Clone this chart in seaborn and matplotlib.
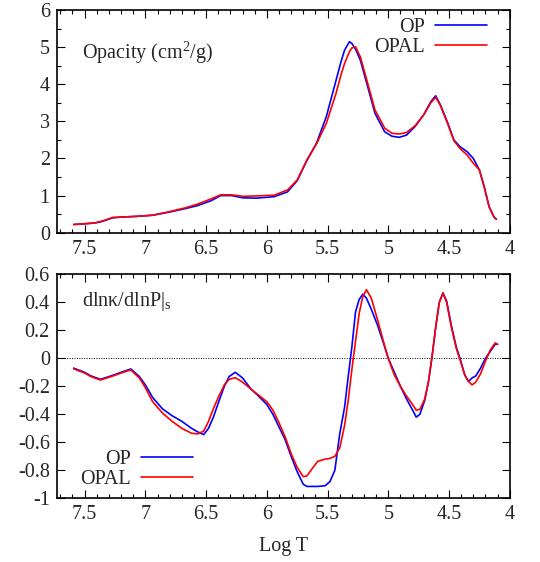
import numpy as np
import pandas as pd
import matplotlib
matplotlib.use("Agg")
import matplotlib.pyplot as plt
import seaborn as sns
from matplotlib.ticker import MultipleLocator

# ============================================================
# Data
# ============================================================

logt_top = [7.59, 7.50, 7.42, 7.37, 7.33, 7.27, 7.20, 7.07, 6.94, 6.81,
            6.67, 6.57, 6.46, 6.38, 6.29, 6.20, 6.09, 5.94, 5.83, 5.75,
            5.67, 5.59, 5.51, 5.43, 5.39, 5.36, 5.32, 5.30, 5.27, 5.23,
            5.17, 5.11, 5.03, 4.97, 4.91, 4.85, 4.78, 4.71, 4.65, 4.61,
            4.57, 4.51, 4.46, 4.41, 4.35, 4.30, 4.25, 4.21, 4.17, 4.13,
            4.11]

kappa_op = [0.22, 0.24, 0.26, 0.29, 0.33, 0.40, 0.42, 0.44, 0.47, 0.55,
            0.65, 0.73, 0.86, 1.00, 1.00, 0.94, 0.93, 0.97, 1.10, 1.40,
            1.95, 2.42, 3.13, 4.11, 4.60, 4.92, 5.15, 5.10, 4.95, 4.65,
            3.94, 3.22, 2.72, 2.60, 2.57, 2.63, 2.86, 3.17, 3.53, 3.69,
            3.44, 2.95, 2.50, 2.32, 2.18, 2.00, 1.69, 1.24, 0.70, 0.42,
            0.36]

kappa_opal = [0.22, 0.24, 0.26, 0.30, 0.34, 0.41, 0.42, 0.44, 0.47, 0.56,
              0.67, 0.77, 0.91, 1.02, 1.02, 0.98, 0.99, 1.01, 1.15, 1.42,
              1.96, 2.40, 2.95, 3.76, 4.25, 4.56, 4.88, 4.98, 5.01, 4.74,
              4.03, 3.31, 2.82, 2.68, 2.66, 2.70, 2.88, 3.17, 3.50, 3.65,
              3.42, 2.93, 2.48, 2.27, 2.09, 1.87, 1.69, 1.22, 0.70, 0.42,
              0.36]

logt_bot = [7.59, 7.50, 7.45, 7.37, 7.28, 7.20, 7.12, 7.05, 7.00, 6.94,
            6.86, 6.78, 6.70, 6.62, 6.57, 6.52, 6.48, 6.44, 6.40, 6.35,
            6.31, 6.26, 6.20, 6.13, 6.08, 6.00, 5.95, 5.90, 5.85, 5.80,
            5.75, 5.70, 5.67, 5.62, 5.58, 5.52, 5.48, 5.44, 5.40, 5.36,
            5.33, 5.30, 5.27, 5.24, 5.21, 5.18, 5.14, 5.09, 5.04, 5.00,
            4.95, 4.90, 4.85, 4.80, 4.77, 4.74, 4.70, 4.67, 4.64, 4.61,
            4.58, 4.55, 4.52, 4.48, 4.44, 4.41, 4.37, 4.34, 4.31, 4.28,
            4.24, 4.20, 4.16, 4.12, 4.10]

dlnk_op = [-0.07, -0.10, -0.125, -0.15, -0.125, -0.10, -0.076, -0.13, -0.19, -0.28,
           -0.36, -0.41, -0.45, -0.50, -0.525, -0.545, -0.50, -0.42, -0.32, -0.20,
           -0.13, -0.10, -0.14, -0.22, -0.26, -0.33, -0.40, -0.49, -0.58, -0.70,
           -0.81, -0.90, -0.915, -0.915, -0.915, -0.91, -0.88, -0.80, -0.54, -0.35,
           -0.13, 0.08, 0.33, 0.42, 0.458, 0.43, 0.35, 0.24, 0.11, 0.0,
           -0.10, -0.20, -0.29, -0.37, -0.42, -0.40, -0.30, -0.17, 0.01, 0.22,
           0.40, 0.467, 0.41, 0.23, 0.08, 0.0, -0.12, -0.166, -0.14, -0.126,
           -0.07, 0.0, 0.05, 0.10, 0.10]

dlnk_opal = [-0.075, -0.105, -0.13, -0.155, -0.13, -0.105, -0.083, -0.14, -0.21, -0.31,
             -0.39, -0.45, -0.50, -0.535, -0.54, -0.52, -0.45, -0.36, -0.28, -0.19,
             -0.15, -0.138, -0.17, -0.22, -0.255, -0.31, -0.37, -0.46, -0.56, -0.68,
             -0.78, -0.845, -0.84, -0.78, -0.735, -0.72, -0.715, -0.70, -0.64, -0.48,
             -0.30, -0.08, 0.12, 0.32, 0.44, 0.49, 0.43, 0.28, 0.12, 0.0,
             -0.12, -0.20, -0.27, -0.33, -0.37, -0.365, -0.29, -0.17, 0.01, 0.22,
             0.40, 0.465, 0.40, 0.22, 0.07, -0.01, -0.12, -0.165, -0.19, -0.17,
             -0.11, -0.02, 0.06, 0.11, 0.10]

x_ticks = [7.5, 7, 6.5, 6, 5.5, 5, 4.5, 4]
x_ticklabels = ["7.5", "7", "6.5", "6", "5.5", "5", "4.5", "4"]
top_yticks = [0, 1, 2, 3, 4, 5, 6]
bot_yticks = [-1, -0.8, -0.6, -0.4, -0.2, 0, 0.2, 0.4, 0.6]
bot_yticklabels = ["-1", "-0.8", "-0.6", "-0.4", "-0.2", "0", "0.2", "0.4", "0.6"]

PALETTE = {"OP": "#0000ff", "OPAL": "#ff0000"}

# ============================================================
# Style
# ============================================================

sns.set_theme(style="ticks")
plt.rcParams["font.family"] = ["Liberation Serif", "DejaVu Serif"]
plt.rcParams["mathtext.default"] = "regular"
plt.rcParams["axes.unicode_minus"] = False
FS = 14.5


def long_frame(x, a, b):
    return pd.DataFrame({"logT": x + x, "val": a + b,
                         "table": ["OP"] * len(a) + ["OPAL"] * len(b)})


def style_axis(ax):
    ax.set_xlim(7.73, 4.0)
    ax.set_xticks(x_ticks)
    ax.set_xticklabels(x_ticklabels)
    ax.xaxis.set_minor_locator(MultipleLocator(0.1))
    ax.tick_params(which="both", direction="in", top=True, right=True,
                   labelsize=FS, pad=5, width=0.8, color="black")
    ax.tick_params(which="major", length=6)
    ax.tick_params(which="minor", length=3)
    for sp in ax.spines.values():
        sp.set_linewidth(1.2)
        sp.set_color("black")
    ax.set_xlabel("")
    ax.set_ylabel("")


fig = plt.figure(figsize=(5.4, 5.62), dpi=100)
ax1 = fig.add_axes([0.105, 0.586, 0.839, 0.396])
ax2 = fig.add_axes([0.105, 0.1133, 0.839, 0.3986])

# ---- top panel: opacity
df_top = long_frame(logt_top, kappa_op, kappa_opal)
sns.lineplot(data=df_top, x="logT", y="val", hue="table", hue_order=["OP", "OPAL"],
             palette=PALETTE, estimator=None, ax=ax1, linewidth=1.2, legend=False)
style_axis(ax1)
ax1.set_ylim(0, 6)
ax1.set_yticks(top_yticks)
ax1.yaxis.set_minor_locator(MultipleLocator(0.5))
ax1.text(0.056, 0.81, "Opacity (cm$^2$/g)", transform=ax1.transAxes,
         fontsize=FS, va="center", ha="left")
ax1.legend(ax1.get_lines()[:2], ["OP", "OPAL"], loc="upper right",
           bbox_to_anchor=(0.99, 1.045), markerfirst=False, frameon=False,
           fontsize=FS, handlelength=2.6, handletextpad=0.5, labelspacing=0.05)

# ---- bottom panel: dlnk/dlnP
df_bot = long_frame(logt_bot, dlnk_op, dlnk_opal)
ax2.axhline(0, color="black", linewidth=0.7, linestyle=(0, (1, 1.5)))
sns.lineplot(data=df_bot, x="logT", y="val", hue="table", hue_order=["OP", "OPAL"],
             palette=PALETTE, estimator=None, ax=ax2, linewidth=1.2, legend=False)
style_axis(ax2)
ax2.set_ylim(-1, 0.6)
ax2.set_yticks(bot_yticks)
ax2.set_yticklabels(bot_yticklabels)
ax2.text(0.056, 0.878, "dlnκ/dlnP|$_s$", transform=ax2.transAxes,
         fontsize=FS, va="center", ha="left")
lines2 = [l for l in ax2.get_lines() if l.get_linestyle() == "-"][:2]
ax2.legend(lines2, ["OP", "OPAL"], loc="lower left",
           bbox_to_anchor=(0.012, -0.04), markerfirst=False, frameon=False,
           fontsize=FS, handlelength=2.6, handletextpad=0.5, labelspacing=0.05)
ax2.set_xlabel("Log T", fontsize=FS, labelpad=9)

fig.savefig("out.png", dpi=100)
